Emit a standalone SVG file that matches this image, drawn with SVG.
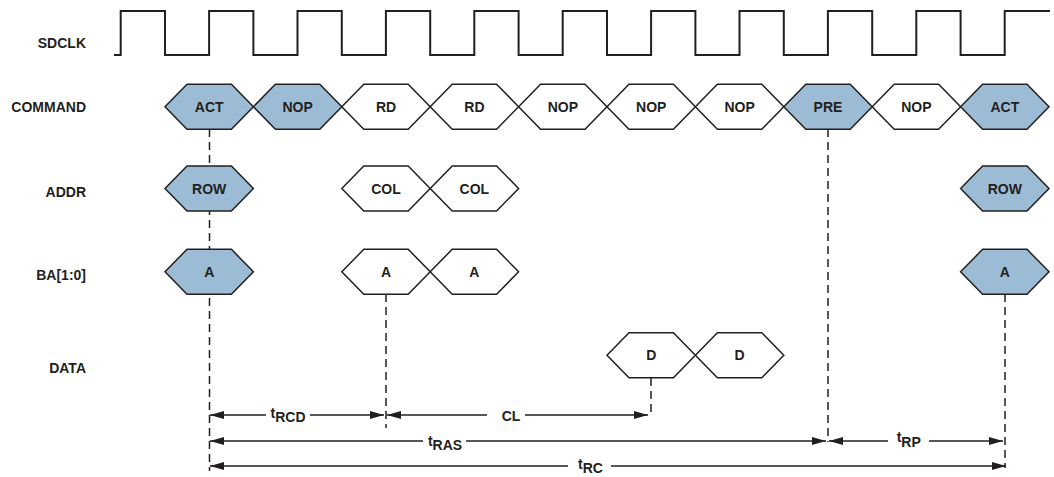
<svg xmlns="http://www.w3.org/2000/svg" width="1054" height="477" viewBox="0 0 1054 477">
<style>
text{font-family:"Liberation Sans",Arial,sans-serif;font-weight:bold;font-size:14px;fill:#231f20}
.lbl{text-anchor:end}
.c{text-anchor:middle}
.hx{stroke:#231f20;stroke-width:1.5;stroke-linejoin:miter}
.b{fill:#9cbcd6}
.w{fill:#ffffff}
.clk{fill:none;stroke:#231f20;stroke-width:2}
.dash{stroke:#231f20;stroke-width:1.5;stroke-dasharray:8 5;fill:none}
.ar{stroke:#231f20;stroke-width:1.6;fill:none}
</style>
<defs>
<marker id="ah" markerUnits="userSpaceOnUse" markerWidth="14" markerHeight="8" refX="14" refY="4" orient="auto-start-reverse">
<path d="M0,0 L14,4 L0,8 Z" fill="#231f20"/>
</marker>
</defs>
<g id="labels">
<text class="lbl" x="86" y="48.3">SDCLK</text>
<text class="lbl" x="86" y="111.7">COMMAND</text>
<text class="lbl" x="86" y="196.7">ADDR</text>
<text class="lbl" x="86" y="280">BA[1:0]</text>
<text class="lbl" x="86" y="373.3">DATA</text>
</g>
<g id="sdclk">
<path class="clk" d="M114,55 H120.7 V11 H165 V55 H209.1 V11 H253.4 V55 H297.5 V11 H341.8 V55 H385.9 V11 H430.2 V55 H474.3 V11 H518.6 V55 H562.7 V11 H607 V55 H651.1 V11 H695.4 V55 H739.5 V11 H783.8 V55 H827.9 V11 H872.2 V55 H916.3 V11 H960.6 V55 H1004.7 V11 H1050"/>
</g>
<g id="connectors">
<line class="dash" x1="209.5" y1="129" x2="209.5" y2="471"/>
<line class="dash" x1="386" y1="294" x2="386" y2="428"/>
<line class="dash" x1="651" y1="378" x2="651" y2="416"/>
<line class="dash" x1="828" y1="129" x2="828" y2="442"/>
<line class="dash" x1="1005" y1="294" x2="1005" y2="468"/>
<line class="ar" x1="266" y1="415" x2="210" y2="415" marker-end="url(#ah)"/>
<line class="ar" x1="310" y1="415" x2="384" y2="415" marker-end="url(#ah)"/>
<line class="ar" x1="487" y1="415" x2="387" y2="415" marker-end="url(#ah)"/>
<line class="ar" x1="525" y1="415" x2="648" y2="415" marker-end="url(#ah)"/>
<line class="ar" x1="423" y1="441" x2="210" y2="441" marker-end="url(#ah)"/>
<line class="ar" x1="466" y1="441" x2="826" y2="441" marker-end="url(#ah)"/>
<line class="ar" x1="888" y1="441" x2="829" y2="441" marker-end="url(#ah)"/>
<line class="ar" x1="929" y1="441" x2="1003" y2="441" marker-end="url(#ah)"/>
<line class="ar" x1="568" y1="466" x2="210" y2="466" marker-end="url(#ah)"/>
<line class="ar" x1="611" y1="466" x2="1006" y2="466" marker-end="url(#ah)"/>
<text class="c" x="288" y="418">t<tspan dy="4">RCD</tspan></text>
<text class="c" x="511" y="420.5">CL</text>
<text class="c" x="445" y="446">t<tspan dy="4">RAS</tspan></text>
<text class="c" x="908.7" y="442">t<tspan dy="5">RP</tspan></text>
<text class="c" x="590.5" y="469">t<tspan dy="4">RC</tspan></text>
</g>
<g id="cmd-act1"><polygon class="hx b" points="165,106.7 187,84.2 231.4,84.2 253.4,106.7 231.4,129.2 187,129.2"/><text class="c" x="209.2" y="111.7">ACT</text></g>
<g id="cmd-nop1"><polygon class="hx b" points="253.4,106.7 275.4,84.2 319.8,84.2 341.8,106.7 319.8,129.2 275.4,129.2"/><text class="c" x="297.6" y="111.7">NOP</text></g>
<g id="cmd-rd1"><polygon class="hx w" points="341.8,106.7 363.8,84.2 408.2,84.2 430.2,106.7 408.2,129.2 363.8,129.2"/><text class="c" x="386" y="111.7">RD</text></g>
<g id="cmd-rd2"><polygon class="hx w" points="430.2,106.7 452.2,84.2 496.6,84.2 518.6,106.7 496.6,129.2 452.2,129.2"/><text class="c" x="474.4" y="111.7">RD</text></g>
<g id="cmd-nop2"><polygon class="hx w" points="518.6,106.7 540.6,84.2 585,84.2 607,106.7 585,129.2 540.6,129.2"/><text class="c" x="562.8" y="111.7">NOP</text></g>
<g id="cmd-nop3"><polygon class="hx w" points="607,106.7 629,84.2 673.4,84.2 695.4,106.7 673.4,129.2 629,129.2"/><text class="c" x="651.2" y="111.7">NOP</text></g>
<g id="cmd-nop4"><polygon class="hx w" points="695.4,106.7 717.4,84.2 761.8,84.2 783.8,106.7 761.8,129.2 717.4,129.2"/><text class="c" x="739.6" y="111.7">NOP</text></g>
<g id="cmd-pre"><polygon class="hx b" points="783.8,106.7 805.8,84.2 850.2,84.2 872.2,106.7 850.2,129.2 805.8,129.2"/><text class="c" x="828" y="111.7">PRE</text></g>
<g id="cmd-nop5"><polygon class="hx w" points="872.2,106.7 894.2,84.2 938.6,84.2 960.6,106.7 938.6,129.2 894.2,129.2"/><text class="c" x="916.4" y="111.7">NOP</text></g>
<g id="cmd-act2"><polygon class="hx b" points="960.6,106.7 982.6,84.2 1027,84.2 1049,106.7 1027,129.2 982.6,129.2"/><text class="c" x="1004.8" y="111.7">ACT</text></g>
<g id="addr-row1"><polygon class="hx b" points="165,188.5 187,166 231.4,166 253.4,188.5 231.4,211 187,211"/><text class="c" x="209.2" y="193.5">ROW</text></g>
<g id="addr-col1"><polygon class="hx w" points="341.8,188.5 363.8,166 408.2,166 430.2,188.5 408.2,211 363.8,211"/><text class="c" x="386" y="193.5">COL</text></g>
<g id="addr-col2"><polygon class="hx w" points="430.2,188.5 452.2,166 496.6,166 518.6,188.5 496.6,211 452.2,211"/><text class="c" x="474.4" y="193.5">COL</text></g>
<g id="addr-row2"><polygon class="hx b" points="960.6,188.5 982.6,166 1027,166 1049,188.5 1027,211 982.6,211"/><text class="c" x="1004.8" y="193.5">ROW</text></g>
<g id="ba-a1"><polygon class="hx b" points="165,271.8 187,249.3 231.4,249.3 253.4,271.8 231.4,294.3 187,294.3"/><text class="c" x="209.2" y="276.8">A</text></g>
<g id="ba-a2"><polygon class="hx w" points="341.8,271.8 363.8,249.3 408.2,249.3 430.2,271.8 408.2,294.3 363.8,294.3"/><text class="c" x="386" y="276.8">A</text></g>
<g id="ba-a3"><polygon class="hx w" points="430.2,271.8 452.2,249.3 496.6,249.3 518.6,271.8 496.6,294.3 452.2,294.3"/><text class="c" x="474.4" y="276.8">A</text></g>
<g id="ba-a4"><polygon class="hx b" points="960.6,271.8 982.6,249.3 1027,249.3 1049,271.8 1027,294.3 982.6,294.3"/><text class="c" x="1004.8" y="276.8">A</text></g>
<g id="data-d1"><polygon class="hx w" points="607,355.3 629,332.8 673.4,332.8 695.4,355.3 673.4,377.8 629,377.8"/><text class="c" x="651.2" y="360.3">D</text></g>
<g id="data-d2"><polygon class="hx w" points="695.4,355.3 717.4,332.8 761.8,332.8 783.8,355.3 761.8,377.8 717.4,377.8"/><text class="c" x="739.6" y="360.3">D</text></g>
</svg>
